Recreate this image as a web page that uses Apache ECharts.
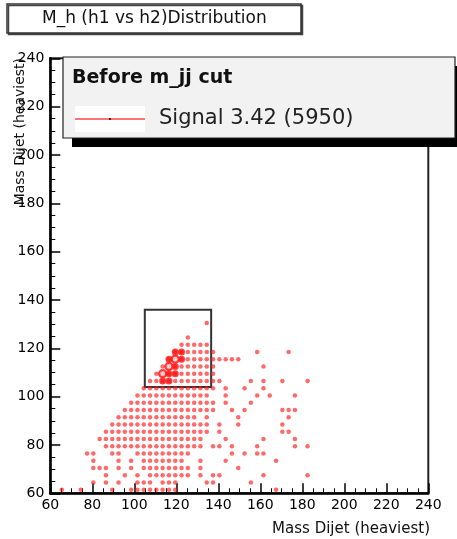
<!DOCTYPE html>
<html><head><meta charset="utf-8">
<script src="https://cdn.jsdelivr.net/npm/echarts@6/dist/echarts.min.js"></script>
<style>html,body{margin:0;padding:0;background:#fff}#chart{width:457px;height:539px}</style>
</head><body><div id="chart"></div>
<script>
// ---- data ----
const titleText = 'M_h (h1 vs h2)Distribution';
const xAxisTitle = 'Mass Dijet (heaviest)';
const yAxisTitle = 'Mass Dijet (heaviest)';
const legendHeader = 'Before m_jj cut';
const seriesName = 'Signal 3.42 (5950)';
const xRange = [60, 240];
const yRange = [60, 240];
const tickStep = 20;
// cut window box [xMin, xMax, yMin, yMax]
const cutBox = [105, 136.6, 104, 136];
// filled cells: row centre (y) and the x centres filled in that row
const rowY = [61.5, 64.5, 67.5, 70.5, 73.5, 76.5, 79.5, 82.5, 85.5, 88.5, 91.5, 94.5,
  97.5, 100.5, 103.5, 106.5, 109.5, 112.5, 115.5, 118.5, 121.5, 124.5, 130.5];
const rowX = [
  [65.5, 74.5, 89.5, 98.5, 101.5, 104.5, 107.5, 110.5, 113.5, 116.5, 119.5, 167.5],
  [80.5, 86.5, 92.5, 101.5, 104.5, 107.5, 113.5, 116.5, 119.5, 134.5, 137.5, 155.5],
  [86.5, 95.5, 101.5, 107.5, 110.5, 113.5, 116.5, 119.5, 122.5, 125.5, 131.5, 137.5, 140.5, 161.5, 182.5],
  [80.5, 83.5, 86.5, 92.5, 98.5, 104.5, 107.5, 110.5, 113.5, 116.5, 119.5, 122.5, 125.5, 131.5, 149.5],
  [80.5, 92.5, 98.5, 104.5, 107.5, 110.5, 113.5, 116.5, 119.5, 122.5, 131.5, 143.5, 167.5],
  [77.5, 80.5, 89.5, 92.5, 101.5, 104.5, 107.5, 110.5, 113.5, 116.5, 119.5, 122.5, 125.5, 146.5, 152.5, 158.5, 161.5],
  [86.5, 89.5, 92.5, 95.5, 98.5, 101.5, 104.5, 107.5, 110.5, 113.5, 116.5, 119.5, 122.5, 125.5, 128.5, 131.5, 137.5, 140.5, 146.5, 158.5, 176.5, 182.5],
  [83.5, 86.5, 89.5, 92.5, 95.5, 98.5, 101.5, 104.5, 107.5, 110.5, 113.5, 116.5, 119.5, 122.5, 125.5, 128.5, 131.5, 143.5, 161.5, 176.5],
  [86.5, 89.5, 92.5, 95.5, 98.5, 101.5, 104.5, 107.5, 110.5, 113.5, 116.5, 119.5, 122.5, 125.5, 128.5, 131.5, 134.5, 140.5, 170.5, 173.5],
  [89.5, 92.5, 95.5, 98.5, 101.5, 104.5, 107.5, 110.5, 113.5, 116.5, 119.5, 122.5, 125.5, 128.5, 131.5, 134.5, 140.5, 149.5, 170.5],
  [92.5, 95.5, 98.5, 101.5, 104.5, 107.5, 110.5, 113.5, 116.5, 119.5, 122.5, 125.5, 128.5, 134.5, 149.5, 173.5],
  [95.5, 98.5, 101.5, 104.5, 107.5, 110.5, 113.5, 116.5, 119.5, 122.5, 125.5, 128.5, 131.5, 134.5, 137.5, 146.5, 152.5, 170.5, 173.5, 176.5],
  [98.5, 101.5, 104.5, 107.5, 110.5, 113.5, 116.5, 119.5, 122.5, 125.5, 128.5, 131.5, 134.5, 137.5, 143.5, 155.5],
  [101.5, 104.5, 107.5, 110.5, 113.5, 116.5, 119.5, 122.5, 125.5, 128.5, 131.5, 134.5, 143.5, 158.5, 164.5, 176.5],
  [104.5, 107.5, 110.5, 113.5, 116.5, 119.5, 122.5, 125.5, 128.5, 131.5, 134.5, 137.5, 143.5, 152.5, 161.5],
  [107.5, 110.5, 113.5, 116.5, 119.5, 122.5, 125.5, 128.5, 131.5, 134.5, 137.5, 140.5, 155.5, 161.5, 170.5, 182.5],
  [110.5, 113.5, 116.5, 119.5, 122.5, 125.5, 128.5, 131.5, 134.5, 137.5],
  [113.5, 116.5, 119.5, 122.5, 125.5, 128.5, 131.5, 134.5, 137.5, 161.5],
  [116.5, 119.5, 122.5, 125.5, 128.5, 131.5, 134.5, 137.5, 140.5, 143.5, 146.5, 149.5],
  [119.5, 122.5, 125.5, 128.5, 131.5, 134.5, 137.5, 158.5, 173.5],
  [122.5, 125.5, 128.5, 131.5, 134.5],
  [125.5],
  [134.5]
];
// cells with many entries (dense core)
const denseX = [113.5, 116.5, 113.5, 116.5, 119.5, 116.5, 119.5, 116.5, 119.5, 122.5, 119.5, 122.5];
const denseY = [106.5, 106.5, 109.5, 109.5, 109.5, 112.5, 112.5, 115.5, 115.5, 115.5, 118.5, 118.5];
const peakX = [113.5, 116.5, 119.5];
const peakY = [109.5, 112.5, 115.5];

// ---- build ----
const FONT = 'DejaVu Sans';
const points = [];
rowY.forEach((y, k) => rowX[k].forEach(x => points.push([x, y])));
const dense = denseX.map((x, k) => [x, denseY[k]]);
const peak = peakX.map((x, k) => [x, peakY[k]]);

const chart = echarts.init(document.getElementById('chart'), null, {renderer: 'canvas'});
const axisCommon = {
  interval: tickStep,
  axisLine: {show: true, onZero: false, lineStyle: {color: '#000', width: 2.5}},
  axisTick: {show: true, inside: true, length: 10, lineStyle: {color: '#000', width: 1.5}},
  minorTick: {show: true, splitNumber: 4, length: 5, lineStyle: {color: '#000', width: 1}},
  splitLine: {show: false},
  axisLabel: {color: '#000', fontFamily: FONT, fontSize: 14, showMinLabel: true, showMaxLabel: true}
};
chart.setOption({
  animation: false,
  backgroundColor: '#fff',
  title: {
    text: titleText, left: 7, top: 4,
    padding: [5, 35, 5, 35],
    borderColor: '#333', borderWidth: 1.5, backgroundColor: '#fff',
    shadowColor: '#444', shadowOffsetX: 1.5, shadowOffsetY: 1.5, shadowBlur: 0,
    textStyle: {fontFamily: FONT, fontSize: 17, fontWeight: 'normal', color: '#111', lineHeight: 19}
  },
  grid: {left: 50.3, top: 58.3, width: 378, height: 435, show: true, borderColor: '#222', borderWidth: 2, backgroundColor: 'transparent'},
  xAxis: Object.assign({type: 'value', min: xRange[0], max: xRange[1]}, axisCommon,
    {axisLabel: Object.assign({}, axisCommon.axisLabel, {margin: 5})}),
  yAxis: Object.assign({type: 'value', min: yRange[0], max: yRange[1]}, axisCommon,
    {axisLabel: Object.assign({}, axisCommon.axisLabel, {margin: 6})}),
  legend: {
    left: 75, top: 106, padding: 0, itemWidth: 70, itemHeight: 2, selectedMode: false,
    data: [{name: seriesName, icon: 'rect', itemStyle: {color: '#ff5050'}}],
    textStyle: {fontFamily: FONT, fontSize: 21, color: '#222', lineHeight: 26, padding: [0, 0, 0, 9]},
    z: 20
  },
  graphic: [
    {type: 'rect', z: 10, shape: {x: 72, y: 66, width: 392, height: 81}, style: {fill: '#000'}},
    {type: 'rect', z: 11, shape: {x: 63, y: 57, width: 392, height: 81}, style: {fill: '#f2f2f2', stroke: '#222', lineWidth: 1.2}},
    {type: 'rect', z: 12, shape: {x: 75, y: 106, width: 70, height: 26}, style: {fill: '#fff'}},
    {type: 'text', z: 12, x: 72, y: 78, style: {text: legendHeader, fontFamily: FONT, fontSize: 19, fontWeight: 'bold', fill: '#111', verticalAlign: 'middle'}},
    {type: 'circle', z: 30, shape: {cx: 110, cy: 119, r: 1}, style: {fill: '#000'}},
    {type: 'text', x: 20, y: 58, rotation: Math.PI / 2, style: {text: yAxisTitle, fontFamily: FONT, fontSize: 14, fill: '#111', align: 'right', verticalAlign: 'middle'}},
    {type: 'text', x: 430, y: 529, style: {text: xAxisTitle, fontFamily: FONT, fontSize: 15, fill: '#111', align: 'right', verticalAlign: 'middle'}}
  ],
  series: [
    {
      name: seriesName, type: 'scatter', data: points, symbol: 'circle', symbolSize: 4.5,
      itemStyle: {color: 'rgba(255,20,20,0.8)'}, z: 3,
      markArea: {
        silent: true,
        itemStyle: {color: 'rgba(0,0,0,0)', borderColor: '#333', borderWidth: 2},
        data: [[{coord: [cutBox[0], cutBox[3]]}, {coord: [cutBox[1], cutBox[2]]}]]
      }
    },
    {name: 'dense', type: 'scatter', data: dense, symbol: 'circle', symbolSize: 7, itemStyle: {color: '#ff1010'}, z: 4},
    {name: 'peak', type: 'scatter', data: peak, symbol: 'circle', symbolSize: 7, itemStyle: {color: '#fff', borderColor: '#ff1010', borderWidth: 2.2}, z: 5}
  ]
});
</script></body></html>
